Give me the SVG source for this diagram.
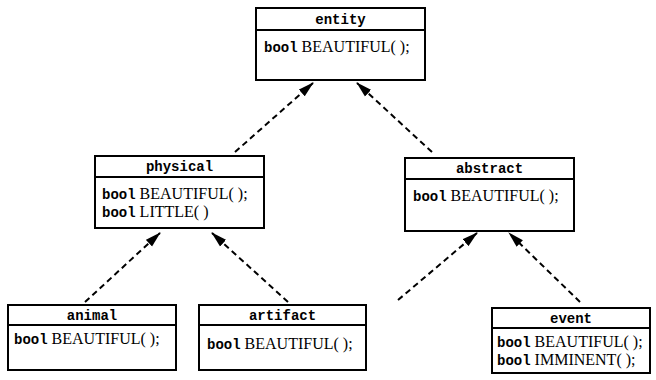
<svg xmlns="http://www.w3.org/2000/svg" width="656" height="380" viewBox="0 0 656 380">
  <style>
    .box { fill: #fff; stroke: #000; stroke-width: 2; }
    .div { stroke: #000; stroke-width: 2; }
    .hdr { font-family: "Liberation Mono", "DejaVu Sans Mono", monospace; font-weight: bold; font-size: 14px; text-anchor: middle; fill: #000; }
    .body { font-family: "Liberation Serif", "DejaVu Serif", serif; font-size: 16px; fill: #000; }
    .kw { font-family: "Liberation Mono", "DejaVu Sans Mono", monospace; font-weight: bold; font-size: 14px; }
    .edge { stroke: #000; stroke-width: 2; stroke-dasharray: 6 4; fill: none; marker-end: url(#head); }
  </style>
  <defs>
    <marker id="head" viewBox="0 0 16 10" refX="15" refY="5" markerWidth="16" markerHeight="10" markerUnits="userSpaceOnUse" orient="auto">
      <path d="M0,0.5 L16,5 L0,9.5 Z" fill="#000"/>
    </marker>
  </defs>

  <g id="connectors">
    <line class="edge" x1="235" y1="152" x2="313" y2="83"/>
    <line class="edge" x1="432" y1="152" x2="357" y2="83"/>
    <line class="edge" x1="85" y1="302" x2="160" y2="233"/>
    <line class="edge" x1="288" y1="302" x2="212" y2="233"/>
    <line class="edge" x1="398" y1="300" x2="477" y2="233"/>
    <line class="edge" x1="580" y1="302" x2="509" y2="233"/>
  </g>

  <g id="entity">
    <rect class="box" x="256" y="8" width="169" height="72"/>
    <line class="div" x1="256" y1="30" x2="425" y2="30"/>
    <text class="hdr" x="340.5" y="24">entity</text>
    <text class="body" x="264" y="52"><tspan class="kw">bool</tspan> BEAUTIFUL( );</text>
  </g>

  <g id="physical">
    <rect class="box" x="95" y="156" width="169" height="72"/>
    <line class="div" x1="95" y1="177" x2="264" y2="177"/>
    <text class="hdr" x="179.5" y="171">physical</text>
    <text class="body" x="102" y="199"><tspan class="kw">bool</tspan> BEAUTIFUL( );</text>
    <text class="body" x="102" y="217"><tspan class="kw">bool</tspan> LITTLE( )</text>
  </g>

  <g id="abstract">
    <rect class="box" x="405" y="158" width="169" height="73"/>
    <line class="div" x1="405" y1="179" x2="574" y2="179"/>
    <text class="hdr" x="489.5" y="173">abstract</text>
    <text class="body" x="413" y="201"><tspan class="kw">bool</tspan> BEAUTIFUL( );</text>
  </g>

  <g id="animal">
    <rect class="box" x="8" y="305" width="168" height="65"/>
    <line class="div" x1="8" y1="325" x2="176" y2="325"/>
    <text class="hdr" x="92" y="320">animal</text>
    <text class="body" x="14" y="344"><tspan class="kw">bool</tspan> BEAUTIFUL( );</text>
  </g>

  <g id="artifact">
    <rect class="box" x="199" y="305" width="167" height="65"/>
    <line class="div" x1="199" y1="325" x2="366" y2="325"/>
    <text class="hdr" x="282.5" y="320">artifact</text>
    <text class="body" x="207" y="349"><tspan class="kw">bool</tspan> BEAUTIFUL( );</text>
  </g>

  <g id="event">
    <rect class="box" x="492" y="308" width="158" height="65"/>
    <line class="div" x1="492" y1="328" x2="650" y2="328"/>
    <text class="hdr" x="571" y="323">event</text>
    <text class="body" x="497" y="347"><tspan class="kw">bool</tspan> BEAUTIFUL( );</text>
    <text class="body" x="497" y="365"><tspan class="kw">bool</tspan> IMMINENT( );</text>
  </g>
</svg>
